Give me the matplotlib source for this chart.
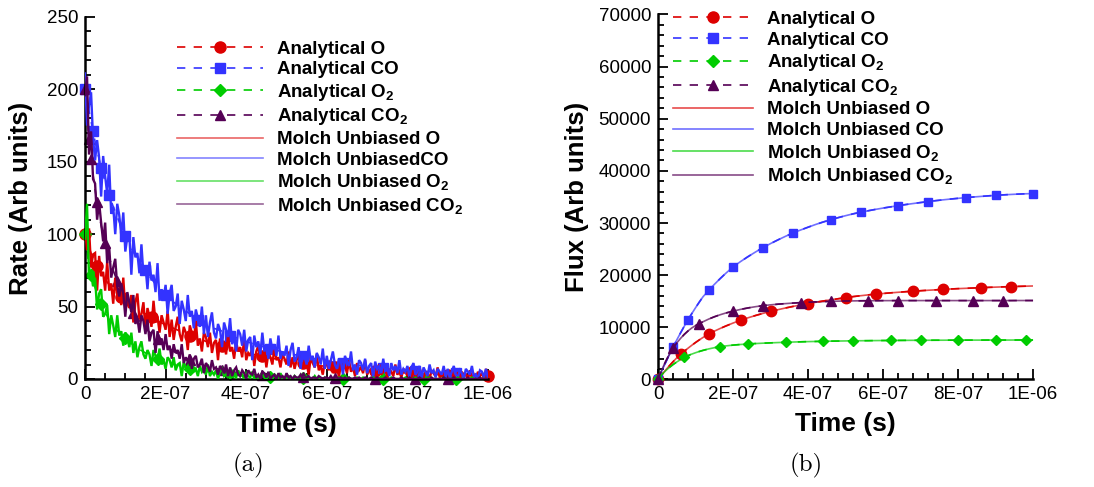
import numpy as np
import matplotlib
matplotlib.use("Agg")
import matplotlib.pyplot as plt
from matplotlib.lines import Line2D
from matplotlib.ticker import MultipleLocator

plt.rcParams['font.family'] = ['Liberation Sans', 'DejaVu Sans']
plt.rcParams['mathtext.fontset'] = 'custom'
plt.rcParams['mathtext.rm'] = 'Liberation Sans'
plt.rcParams['mathtext.bf'] = 'Liberation Sans:bold'
plt.rcParams['mathtext.default'] = 'bf'

# ---------------------------------------------------------------- data
species = ['O', 'CO', 'O$_2$', 'CO$_2$']
molch_labels_rate = ['Molch Unbiased O', 'Molch UnbiasedCO',
                     'Molch Unbiased O$_2$', 'Molch Unbiased CO$_2$']
molch_labels_flux = ['Molch Unbiased O', 'Molch Unbiased CO',
                     'Molch Unbiased O$_2$', 'Molch Unbiased CO$_2$']
xtick_values = [0, 2e-7, 4e-7, 6e-7, 8e-7, 1e-6]
xtick_labels = ['0', '2E-07', '4E-07', '6E-07', '8E-07', '1E-06']

# analytical solution sample times (units of 1e-7 s)
t_analytical = [0, 0.05, 0.1, 0.15, 0.2, 0.25, 0.3, 0.4, 0.5, 0.6, 0.7, 0.8, 0.9, 1.0, 1.1, 1.2,
                1.35, 1.5, 1.65, 1.8, 2.0,
                2.2, 2.4, 2.6, 2.8, 3.0, 3.2, 3.4, 3.6, 3.8, 4.0,
                4.2, 4.4, 4.6, 4.8, 5.0, 5.2, 5.4, 5.6, 5.8, 6.0,
                6.2, 6.4, 6.6, 6.8, 7.0, 7.2, 7.4, 7.6, 7.8, 8.0,
                8.2, 8.4, 8.6, 8.8, 9.0, 9.2, 9.4, 9.6, 9.8, 10.0]

rate_an_O = [100, 95, 91, 87, 84, 81, 78, 73, 69, 65, 62, 59, 56.5, 54, 52, 50, 47, 45, 42.5, 40, 37.5,
             35, 32.5, 30, 28, 26, 24, 22.5, 21, 19.5, 18,
             16.8, 15.6, 14.5, 13.5, 12.5, 11.6, 10.8, 10, 9.3, 8.6,
             8.0, 7.4, 6.9, 6.4, 5.9, 5.5, 5.1, 4.7, 4.4, 4.1,
             3.8, 3.5, 3.2, 3.0, 2.8, 2.6, 2.4, 2.2, 2.0, 1.9]
rate_an_CO = [200, 192, 185, 178, 171, 164, 158, 146, 136, 127, 119, 112, 105, 99, 93, 88, 81, 75, 69, 64, 58,
              53, 49, 45, 41, 38, 35, 33, 30, 28, 26,
              24, 22.5, 21, 19.5, 18, 16.8, 15.6, 14.5, 13.5, 12.5,
              11.6, 10.8, 10.0, 9.3, 8.7, 8.1, 7.5, 7.0, 6.5, 6.1,
              5.7, 5.3, 5.0, 4.7, 4.4, 4.1, 3.9, 3.6, 3.4, 3.2]
rate_an_O2 = [100, 88, 78, 72, 67, 63, 59, 52, 46, 41, 37, 33.5, 30.5, 28, 25.5, 23.5, 20.5, 18, 16, 14, 12,
              10, 8.5, 7.2, 6.1, 5.2, 4.4, 3.7, 3.1, 2.6, 2.2,
              1.9, 1.6, 1.3, 1.1, 0.95, 0.8, 0.68, 0.57, 0.48, 0.4,
              0.34, 0.29, 0.24, 0.2, 0.17, 0.14, 0.12, 0.1, 0.09, 0.07,
              0.06, 0.05, 0.04, 0.04, 0.03, 0.03, 0.02, 0.02, 0.02, 0.01]
rate_an_CO2 = [200, 182, 166, 152, 141, 131, 122, 106, 94, 84, 75, 67.5, 61, 55, 50, 45.5, 40, 35, 31, 27.5, 23.5,
               19, 16, 13, 11, 9, 7.5, 6.3, 5.3, 4.4, 3.7,
               3.1, 2.6, 2.2, 1.8, 1.5, 1.3, 1.1, 0.9, 0.75, 0.63,
               0.53, 0.45, 0.38, 0.32, 0.27, 0.22, 0.19, 0.16, 0.13, 0.11,
               0.09, 0.08, 0.07, 0.06, 0.05, 0.04, 0.03, 0.03, 0.02, 0.02]

flux_O = [0, 460, 910, 1350, 1780, 2200, 2610, 3400, 4150, 4800, 5410, 6000, 6560, 7090, 7590, 8060,
          8720, 9260, 9760, 10230, 10820,
          11350, 11830, 12270, 12680, 13050, 13390, 13710, 14010, 14290, 14560,
          14800, 15040, 15270, 15480, 15690, 15890, 16060, 16220, 16360, 16490,
          16610, 16720, 16830, 16930, 17020, 17110, 17190, 17270, 17350, 17420,
          17480, 17540, 17600, 17660, 17710, 17760, 17810, 17850, 17890, 17930]
flux_CO = [0, 820, 1630, 2430, 3210, 3980, 4730, 6190, 7590, 8930, 10220, 11450, 12630, 13760, 14840, 15870,
           17070, 18220, 19300, 20320, 21590,
           22610, 23560, 24450, 25290, 26060, 26780, 27460, 28090, 28660, 29200,
           29720, 30190, 30630, 31030, 31410, 31760, 32080, 32350, 32620, 32870,
           33100, 33330, 33540, 33740, 33930, 34110, 34290, 34450, 34600, 34740,
           34870, 34990, 35100, 35210, 35310, 35400, 35480, 35550, 35610, 35660]
flux_O2 = [0, 500, 920, 1300, 1650, 1980, 2290, 2860, 3360, 3810, 4220, 4580, 4870, 5130, 5370, 5580,
           5860, 6090, 6280, 6430, 6590,
           6710, 6810, 6890, 6960, 7020, 7080, 7130, 7180, 7220, 7260,
           7290, 7320, 7350, 7370, 7390, 7410, 7430, 7440, 7460, 7470,
           7480, 7490, 7500, 7510, 7520, 7520, 7530, 7530, 7540, 7540,
           7550, 7550, 7550, 7560, 7560, 7560, 7560, 7570, 7570, 7570]
flux_CO2 = [0, 940, 1820, 2640, 3400, 4110, 4770, 5980, 7000, 7880, 8650, 9310, 9880, 10330, 10720, 11070,
            11580, 12020, 12400, 12730, 13100,
            13440, 13720, 13960, 14160, 14310, 14440, 14550, 14650, 14740, 14820,
            14880, 14930, 14980, 15020, 15050, 15070, 15090, 15100, 15110, 15120,
            15120, 15130, 15130, 15130, 15130, 15130, 15130, 15130, 15130, 15130,
            15130, 15130, 15130, 15130, 15130, 15130, 15130, 15140, 15140, 15140]

# Monte Carlo (Molch unbiased) rates, uniform samples over 0 .. 1e-6 s
mc_rate_O = [105, 89, 104, 77, 86, 87, 61, 85, 71, 74,
             61, 81, 61, 66, 52, 70, 58, 63, 51, 70,
             47, 54, 49, 58, 39, 53, 59, 41, 45, 53,
             34, 49, 43, 36, 54, 39, 43, 32, 44, 39,
             34, 47, 29, 41, 27, 36, 43, 31, 26, 36,
             32, 20, 37, 32, 27, 40, 23, 28, 19, 32,
             29, 22, 32, 18, 25, 27, 13, 28, 21, 24,
             17, 30, 19, 22, 14, 26, 19, 22, 15, 28,
             13, 18, 16, 22, 9, 19, 23, 12, 15, 20,
             8, 18, 15, 10, 22, 13, 15, 8, 17, 14,
             10, 19, 8, 15, 7, 13, 17, 10, 7, 13,
             11, 3, 15, 11, 8, 17, 6, 9, 3, 12,
             10, 6, 13, 4, 9, 10, 1, 11, 7, 9,
             4, 13, 5, 8, 2, 11, 6, 8, 4, 13,
             3, 6, 5, 8, 1, 7, 10, 3, 5, 8,
             0, 7, 5, 2, 10, 3, 5, 1, 7, 5,
             2, 8, 1, 6, 1, 5, 8, 3, 1, 5,
             4, 0, 6, 4, 2, 8, 1, 3, 0, 5,
             4, 1, 6, 0, 3, 4, 0, 5, 2, 3,
             0, 6, 1, 3, 0, 5, 2, 4, 0, 7,
             0]
mc_rate_CO = [211, 175, 189, 198, 166, 151, 165, 153, 126, 154,
              140, 128, 148, 114, 119, 100, 121, 113, 99, 115,
              88, 98, 100, 72, 98, 84, 87, 73, 93, 72,
              78, 62, 81, 68, 72, 60, 80, 54, 62, 56,
              65, 45, 59, 65, 47, 50, 59, 38, 54, 48,
              40, 58, 43, 47, 35, 48, 42, 36, 50, 31,
              44, 29, 39, 46, 32, 28, 38, 34, 22, 39,
              34, 29, 42, 24, 29, 19, 34, 31, 23, 34,
              19, 27, 29, 13, 30, 22, 26, 17, 32, 19,
              24, 14, 28, 20, 24, 16, 30, 14, 19, 16,
              23, 9, 20, 25, 12, 15, 22, 7, 19, 15,
              10, 23, 13, 16, 8, 18, 15, 10, 21, 7,
              16, 7, 13, 19, 10, 7, 14, 12, 3, 16,
              12, 9, 19, 6, 10, 3, 13, 11, 6, 14,
              4, 9, 11, 1, 12, 7, 9, 4, 14, 5,
              8, 2, 11, 6, 9, 4, 13, 3, 7, 5,
              9, 1, 8, 11, 3, 5, 9, 0, 8, 5,
              2, 10, 4, 6, 1, 7, 5, 3, 9, 1,
              7, 1, 5, 9, 3, 1, 6, 4, 0, 7,
              5, 3, 9, 1, 3, 0, 6, 5, 1, 7,
              0]
mc_rate_O2 = [97, 121, 70, 73, 64, 70, 48, 59, 62, 43,
              45, 51, 31, 44, 37, 29, 44, 30, 33, 23,
              32, 28, 22, 32, 18, 26, 15, 22, 26, 17,
              14, 20, 17, 9, 20, 16, 13, 21, 10, 13,
              7, 15, 13, 8, 15, 6, 10, 11, 2, 12,
              7, 9, 4, 12, 5, 7, 2, 9, 5, 7,
              3, 10, 2, 5, 3, 6, 0, 5, 7, 2,
              3, 6, 0, 4, 3, 1, 6, 2, 3, 0,
              4, 2, 1, 5, 0, 3, 0, 2, 4, 1,
              0, 2, 1, 0, 3, 2, 1, 4, 0, 1,
              0, 2, 1, 0, 2, 0, 1, 1, 0, 1,
              0, 1, 0, 0, 2, 0, 1, 0, 0, 1,
              0, 0, 1, 0, 0, 0, 1, 0, 2, 0,
              0, 1, 0, 0, 0, 1, 0, 0, 1, 0,
              0, 0, 0, 1, 0, 0, 0, 0, 1, 0,
              0, 0, 1, 0, 0, 0, 0, 0, 0, 1,
              0, 0, 0, 0, 1, 0, 0, 0, 0, 0,
              0, 1, 0, 0, 0, 0, 0, 0, 1, 0,
              0, 0, 0, 0, 0, 1, 0, 0, 0, 0,
              0, 0, 1, 0, 0, 0, 0, 0, 0, 0,
              0]
mc_rate_CO2 = [196, 209, 155, 171, 138, 135, 110, 122, 108, 95,
               108, 80, 91, 70, 77, 83, 64, 57, 66, 59,
               43, 60, 53, 46, 58, 38, 42, 32, 44, 40,
               31, 41, 26, 32, 34, 18, 33, 25, 28, 20,
               31, 20, 23, 14, 24, 18, 20, 14, 24, 11,
               15, 12, 17, 7, 14, 16, 8, 10, 14, 4,
               11, 9, 5, 13, 7, 8, 3, 9, 7, 4,
               10, 2, 8, 2, 6, 8, 3, 2, 6, 4,
               0, 6, 4, 3, 7, 1, 3, 0, 5, 4,
               1, 5, 0, 2, 3, 0, 4, 1, 2, 0,
               4, 1, 2, 0, 2, 1, 1, 3, 0, 1,
               1, 2, 0, 1, 1, 0, 2, 1, 0, 1,
               1, 0, 2, 0, 1, 1, 0, 1, 0, 1,
               0, 1, 0, 0, 1, 0, 1, 0, 0, 1,
               0, 0, 1, 0, 0, 1, 0, 0, 0, 1,
               0, 0, 0, 1, 0, 0, 0, 1, 0, 0,
               0, 1, 0, 0, 0, 0, 1, 0, 0, 0,
               0, 0, 1, 0, 0, 0, 0, 0, 1, 0,
               0, 0, 0, 1, 0, 0, 0, 0, 0, 0,
               1, 0, 0, 0, 0, 0, 1, 0, 0, 0,
               0]

# ---------------------------------------------------------------- style
colors = ['#dd0000', '#3333ff', '#00cc00', '#550055']
markers = ['o', 's', 'D', '^']
msizes = [8, 6.5, 6, 7]
dash = (0, (5, 5))

rate_an = [rate_an_O, rate_an_CO, rate_an_O2, rate_an_CO2]
flux_an = [flux_O, flux_CO, flux_O2, flux_CO2]
mc_rate = [mc_rate_O, mc_rate_CO, mc_rate_O2, mc_rate_CO2]

t_an = np.array(t_analytical) * 1e-7

fig = plt.figure(figsize=(10.94, 4.87), dpi=100)
ax1 = fig.add_axes([0.0777, 0.2218, 0.3684, 0.7433])
ax2 = fig.add_axes([0.6015, 0.2208, 0.3428, 0.7495])


def style_axes(ax, ymax, ymajor, yminor, xminor):
    ax.set_xlim(0, 1e-6)
    ax.set_ylim(0, ymax)
    for s in ('top', 'right'):
        ax.spines[s].set_visible(False)
    for s in ('left', 'bottom'):
        ax.spines[s].set_linewidth(1.8)
    ax.set_xticks(xtick_values)
    ax.set_xticklabels(xtick_labels)
    ax.xaxis.set_minor_locator(MultipleLocator(xminor))
    ax.yaxis.set_major_locator(MultipleLocator(ymajor))
    ax.yaxis.set_minor_locator(MultipleLocator(yminor))
    ax.yaxis.set_major_formatter(plt.FuncFormatter(lambda v, p: f'{int(round(v))}'))
    ax.tick_params(which='both', direction='in', width=1.3, labelsize=13.5, pad=5)
    ax.tick_params(which='major', length=7)
    ax.tick_params(which='minor', length=4)


# ---- (a) rates: analytical curves sit underneath the noisy Monte Carlo traces
for k in range(4):
    ax1.plot(t_an, rate_an[k], ls=dash, lw=1.2, color=colors[k], zorder=2)
    ax1.plot(t_an, rate_an[k], ls='none', marker=markers[k], ms=msizes[k],
             color=colors[k], markevery=0.07, clip_on=False, zorder=2.2)
for k in range(4):
    t_mc = np.linspace(0, 1e-6, len(mc_rate[k]))
    ax1.plot(t_mc, mc_rate[k], lw=1.7, color=colors[k], zorder=3,
             solid_joinstyle='miter')

style_axes(ax1, 250, 50, 10, 5e-8)
ax1.set_xlabel('Time (s)', fontsize=19, fontweight='bold')
ax1.set_ylabel('Rate (Arb units)', fontsize=18.5, fontweight='bold')
ax1.xaxis.set_label_coords(0.5, -0.094)
ax1.yaxis.set_label_coords(-0.129, 0.5)

# ---- (b) fluxes
for k in range(4):
    ax2.plot(t_an, flux_an[k], lw=1.2, color=colors[k], alpha=0.7, zorder=2)
    ax2.plot(t_an, flux_an[k], ls=dash, lw=1.2, color=colors[k], marker=markers[k],
             ms=msizes[k] - 0.5, markevery=0.066, clip_on=False, zorder=3)

style_axes(ax2, 70000, 10000, 2000, 4e-8)
ax2.set_xlabel('Time (s)', fontsize=19, fontweight='bold')
ax2.set_ylabel('Flux (Arb units)', fontsize=18.5, fontweight='bold')
ax2.xaxis.set_label_coords(0.5, -0.088)
ax2.yaxis.set_label_coords(-0.184, 0.5)


def legend_handles(molch_labels, mc_alpha):
    handles, labels = [], []
    for k in range(4):
        handles.append(Line2D([], [], ls=dash, lw=1.2, color=colors[k],
                              marker=markers[k], ms=msizes[k]))
        labels.append('Analytical ' + species[k])
    for k in range(4):
        handles.append(Line2D([], [], lw=1.2, color=colors[k], alpha=mc_alpha))
        labels.append(molch_labels[k])
    return handles, labels


h, l = legend_handles(molch_labels_rate, 0.6)
ax1.legend(h, l, loc='upper left', bbox_to_anchor=(0.228, 0.935), frameon=False,
           prop=dict(weight='bold', size=13.5), handlelength=4.6, handletextpad=0.75,
           labelspacing=0.19, borderpad=0, borderaxespad=0, numpoints=1)
h, l = legend_handles(molch_labels_flux, 0.7)
ax2.legend(h, l, loc='upper left', bbox_to_anchor=(0.04, 1.01), frameon=False,
           prop=dict(weight='bold', size=13.5), handlelength=4.25, handletextpad=0.75,
           labelspacing=0.19, borderpad=0, borderaxespad=0, numpoints=1)

fig.text(0.2267, 0.045, '(a)', family='cmr10', fontsize=18, ha='center', va='center')
fig.text(0.7367, 0.045, '(b)', family='cmr10', fontsize=18, ha='center', va='center')

fig.savefig('out.png', dpi=100)
